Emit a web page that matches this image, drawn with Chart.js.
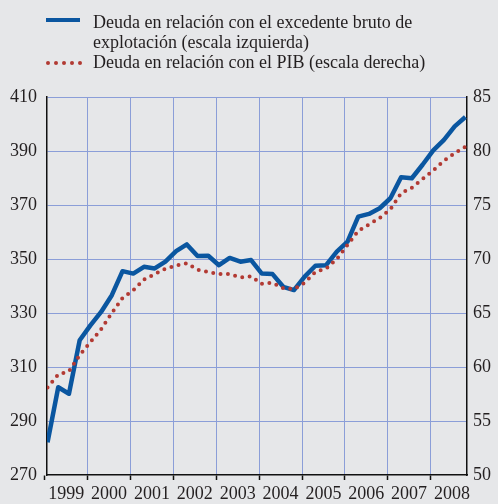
<!DOCTYPE html>
<html>
<head>
<meta charset="utf-8">
<script src="https://cdn.jsdelivr.net/npm/chart.js@4.4.0/dist/chart.umd.min.js"></script>
<style>
  html, body { margin: 0; padding: 0; background: #e6e7e9; }
  #wrap { position: relative; width: 498px; height: 504px; }
  #chart { position: absolute; left: 0; top: 0; }
  .legend { position: absolute; left: 93px; top: 12px; font: 18px "Liberation Serif", serif; line-height: 20px; color: #231f20; white-space: nowrap; }
  .swatch-line { position: absolute; left: 46px; top: 18px; width: 34px; height: 4px; background: #0a56a0; }
  .dot { position: absolute; top: 61px; width: 4px; height: 4px; border-radius: 50%; background: #b23a33; }
</style>
</head>
<body>
<div id="wrap">
  <canvas id="chart" width="498" height="504"></canvas>
  <div class="swatch-line"></div>
  <span class="dot" style="left:46px"></span>
  <span class="dot" style="left:54px"></span>
  <span class="dot" style="left:62px"></span>
  <span class="dot" style="left:70px"></span>
  <span class="dot" style="left:78px"></span>
  <div class="legend">
    Deuda en relación con el excedente bruto de<br>
    explotación (escala izquierda)<br>
    Deuda en relación con el PIB (escala derecha)
  </div>
</div>
<script>
// quarterly data, 1999 Q1 - 2008 Q4
const years = [1999, 2000, 2001, 2002, 2003, 2004, 2005, 2006, 2007, 2008];

// deuda / excedente bruto de explotación (escala izquierda)
const debtToGOS = [
  282.1, 302.5, 300.1, 319.9,
  325.4, 330.4, 336.6, 345.5,
  344.6, 347.1, 346.5, 349.0,
  352.9, 355.4, 351.1, 351.2,
  347.7, 350.4, 349.0, 349.6,
  344.6, 344.4, 339.7, 338.5,
  343.5, 347.5, 347.7, 352.7,
  356.4, 365.7, 366.7, 368.8,
  372.5, 380.3, 379.9, 384.9,
  390.2, 394.1, 399.1, 402.6
];

// deuda / PIB (escala derecha)
const debtToGDP = [
  58.1, 59.3, 59.6, 61.1,
  62.3, 63.5, 65.0, 66.4,
  67.1, 68.1, 68.6, 69.1,
  69.4, 69.6, 69.0, 68.8,
  68.6, 68.6, 68.3, 68.4,
  67.7, 67.8, 67.3, 67.2,
  67.8, 68.8, 69.1, 70.0,
  71.3, 72.6, 73.2, 73.8,
  74.6, 76.1, 76.6, 77.4,
  78.2, 79.1, 79.8, 80.4
];

const leftTicks = [270, 290, 310, 330, 350, 370, 390, 410];
const rightTicks = [50, 55, 60, 65, 70, 75, 80, 85];

const gridColor = '#8b9ed8';
const inkColor = '#231f20';

const toPoints = arr => arr.map((v, i) => ({ x: years[0] + i / 4 + 0.0625, y: v }));

new Chart(document.getElementById('chart'), {
  type: 'line',
  data: {
    datasets: [
      {
        label: 'Deuda en relación con el PIB (escala derecha)',
        data: toPoints(debtToGDP),
        yAxisID: 'y1',
        borderColor: '#b23a33',
        borderWidth: 4,
        borderDash: [0, 7.4],
        borderCapStyle: 'round',
        pointRadius: 0,
        tension: 0
      },
      {
        label: 'Deuda en relación con el excedente bruto de explotación (escala izquierda)',
        data: toPoints(debtToGOS),
        yAxisID: 'y',
        borderColor: '#0a56a0',
        borderWidth: 4.5,
        borderJoinStyle: 'round',
        pointRadius: 0,
        tension: 0
      }
    ]
  },
  options: {
    responsive: false,
    animation: false,
    layout: { padding: { top: 97, left: 0, right: 0, bottom: 0 } },
    plugins: { legend: { display: false }, tooltip: { enabled: false } },
    scales: {
      x: {
        type: 'linear',
        min: 1999.05,
        max: 2008.85,
        afterFit: s => { s.height = 29; },
        afterBuildTicks: s => { s.ticks = years.map(v => ({ value: v })); },
        grid: {
          color: c => (c.tick && c.tick.value === years[0]) ? 'transparent' : gridColor,
          tickColor: '#111',
          tickLength: 5,
          tickWidth: 1.5
        },
        border: { color: '#111', width: 1.5 },
        ticks: {
          autoSkip: false,
          maxRotation: 0,
          labelOffset: 21.4,
          padding: 3,
          color: inkColor,
          font: { family: 'Liberation Serif', size: 18 },
          callback: v => String(v)
        }
      },
      y: {
        position: 'left',
        min: 270,
        max: 410,
        afterFit: s => { s.width = 47; },
        afterBuildTicks: s => { s.ticks = leftTicks.map(v => ({ value: v })); },
        grid: {
          color: c => (c.tick && c.tick.value === leftTicks[0]) ? 'transparent' : gridColor,
          drawTicks: false
        },
        border: { color: '#111', width: 1.5 },
        ticks: {
          padding: 10,
          color: inkColor,
          font: { family: 'Liberation Serif', size: 18 }
        }
      },
      y1: {
        position: 'right',
        min: 50,
        max: 85,
        afterFit: s => { s.width = 31; },
        afterBuildTicks: s => { s.ticks = rightTicks.map(v => ({ value: v })); },
        grid: { display: false, drawTicks: false },
        border: { color: '#111', width: 1.5 },
        ticks: {
          padding: 6,
          color: inkColor,
          font: { family: 'Liberation Serif', size: 18 }
        }
      }
    }
  }
});
</script>
</body>
</html>
